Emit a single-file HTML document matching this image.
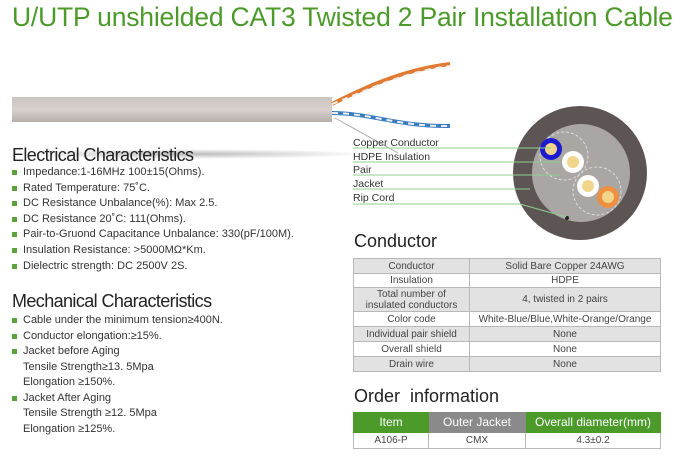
<!DOCTYPE html>
<html><head><meta charset="utf-8"><style>
body{margin:0;width:680px;height:462px;background:#fff;position:relative;overflow:hidden;font-family:"Liberation Sans",sans-serif;color:#333}
.a{position:absolute;white-space:nowrap}
.t{left:12px;top:2px;font-size:26.5px;color:#4c9a2a;letter-spacing:-0.2px}
h2{position:absolute;margin:0;font-weight:normal;font-size:18px;color:#222;white-space:nowrap;letter-spacing:-0.6px}
.li{position:absolute;left:23px;font-size:11px;color:#333;white-space:nowrap}
.li.b:before{content:"";position:absolute;left:-11px;top:4px;width:5px;height:5px;background:#5aa33a}
table{position:absolute;border-collapse:collapse;font-size:10px;color:#444}
td{border:1px solid #b8b8b8;text-align:center;padding:0;line-height:11px}
.g td{background:#e2e2e2}
.lb{position:absolute;left:353px;font-size:10.5px;color:#333}
</style></head><body>
<div class="a t">U/UTP unshielded CAT3 Twisted 2 Pair Installation Cable</div>
<svg class="a" style="left:0;top:0" width="680" height="462">
<defs><linearGradient id="cg" x1="0" y1="0" x2="0" y2="1"><stop offset="0" stop-color="#c9c2bf"/><stop offset=".5" stop-color="#d8d2cf"/><stop offset="1" stop-color="#b5aeab"/></linearGradient>
<radialGradient id="sh"><stop offset="0" stop-color="#bbb"/><stop offset="1" stop-color="#fff"/></radialGradient></defs>
<ellipse cx="190" cy="154" rx="180" ry="5" fill="url(#sh)"/>
<rect x="12" y="97" width="320" height="25" fill="url(#cg)"/>
<path d="M332 104 C360 90 400 70 450 64" stroke="#e07a30" stroke-width="4" fill="none"/>
<path d="M332 104 C360 94 400 72 450 66" stroke="#eee" stroke-width="2" fill="none" stroke-dasharray="6 5"/>
<path d="M332 113 C370 113 400 127 450 126" stroke="#3a7cc0" stroke-width="4" fill="none"/>
<path d="M332 113 C370 113 400 127 450 126" stroke="#eee" stroke-width="2" fill="none" stroke-dasharray="6 5"/>
<line x1="335" y1="118" x2="398" y2="153" stroke="#aaa" stroke-width="1"/>
<circle cx="580" cy="173" r="67" fill="#5c5553"/>
<circle cx="581" cy="173" r="49" fill="#aaa6a4"/>
<circle cx="564" cy="156" r="24" fill="none" stroke="#ddd" stroke-dasharray="3 2"/>
<circle cx="597" cy="191" r="24" fill="none" stroke="#ddd" stroke-dasharray="3 2"/>
<circle cx="551" cy="149" r="11" fill="#1b1bd0"/><circle cx="551" cy="149" r="6" fill="#f1d58b"/>
<circle cx="573" cy="162" r="11" fill="#fff"/><circle cx="573" cy="162" r="6" fill="#f1d58b"/>
<circle cx="588" cy="186" r="11" fill="#fff"/><circle cx="588" cy="186" r="6" fill="#f1d58b"/>
<circle cx="608" cy="197" r="11" fill="#ee9042"/><circle cx="608" cy="197" r="6" fill="#f1d58b"/>
<circle cx="567" cy="218" r="2" fill="#222"/>
<g stroke="#8fcf8f" stroke-width="1">
<line x1="353" y1="148" x2="551" y2="148"/><line x1="353" y1="162" x2="560" y2="162"/><line x1="353" y1="175" x2="560" y2="175"/><line x1="353" y1="189" x2="530" y2="189"/><line x1="353" y1="204" x2="520" y2="204"/><line x1="520" y1="204" x2="566" y2="217"/></g>
</svg>
<div class="lb" style="top:137px">Copper Conductor</div>
<div class="lb" style="top:151px">HDPE Insulation</div>
<div class="lb" style="top:164px">Pair</div>
<div class="lb" style="top:178px">Jacket</div>
<div class="lb" style="top:192px">Rip Cord</div>

<h2 style="left:12px;top:145px">Electrical Characteristics</h2>
<div class="li b" style="top:166px">Impedance:1-16MHz 100±15(Ohms).</div>
<div class="li b" style="top:182px">Rated Temperature: 75˚C.</div>
<div class="li b" style="top:197px">DC Resistance Unbalance(%): Max 2.5.</div>
<div class="li b" style="top:213px">DC Resistance 20˚C: 111(Ohms).</div>
<div class="li b" style="top:228px">Pair-to-Gruond Capacitance Unbalance: 330(pF/100M).</div>
<div class="li b" style="top:244px">Insulation Resistance: &gt;5000MΩ*Km.</div>
<div class="li b" style="top:260px">Dielectric strength: DC 2500V 2S.</div>
<h2 style="left:12px;top:291px">Mechanical Characteristics</h2>
<div class="li b" style="top:314px">Cable under the minimum tension≥400N.</div>
<div class="li b" style="top:330px">Conductor elongation:≥15%.</div>
<div class="li b" style="top:345px">Jacket before Aging</div>
<div class="li" style="top:361px">Tensile Strength≥13. 5Mpa</div>
<div class="li" style="top:376px">Elongation ≥150%.</div>
<div class="li b" style="top:392px">Jacket After Aging</div>
<div class="li" style="top:407px">Tensile Strength ≥12. 5Mpa</div>
<div class="li" style="top:423px">Elongation ≥125%.</div>

<h2 style="left:354px;top:231px;letter-spacing:0">Conductor</h2>
<table style="left:353px;top:258px;width:308px">
<tr class="g" style="height:15px"><td style="width:115px">Conductor</td><td>Solid Bare Copper 24AWG</td></tr>
<tr style="height:14px"><td>Insulation</td><td>HDPE</td></tr>
<tr class="g" style="height:24px"><td>Total number of<br>insulated conductors</td><td>4, twisted in 2 pairs</td></tr>
<tr style="height:15px"><td>Color code</td><td>White-Blue/Blue,White-Orange/Orange</td></tr>
<tr class="g" style="height:15px"><td>Individual pair shield</td><td>None</td></tr>
<tr style="height:15px"><td>Overall shield</td><td>None</td></tr>
<tr class="g" style="height:15px"><td>Drain wire</td><td>None</td></tr>
</table>
<h2 style="left:354px;top:386px;letter-spacing:0">Order&nbsp; information</h2>
<table style="left:353px;top:412px;width:308px">
<tr style="height:20px;font-size:12px;color:#fff"><td style="width:74px;background:#4c9a2a;border-color:#4c9a2a">Item</td><td style="width:96px;background:#8a8a8a;border-color:#8a8a8a">Outer Jacket</td><td style="background:#4c9a2a;border-color:#4c9a2a">Overall diameter(mm)</td></tr>
<tr style="height:16px"><td>A106-P</td><td>CMX</td><td>4.3±0.2</td></tr>
</table>
</body></html>
